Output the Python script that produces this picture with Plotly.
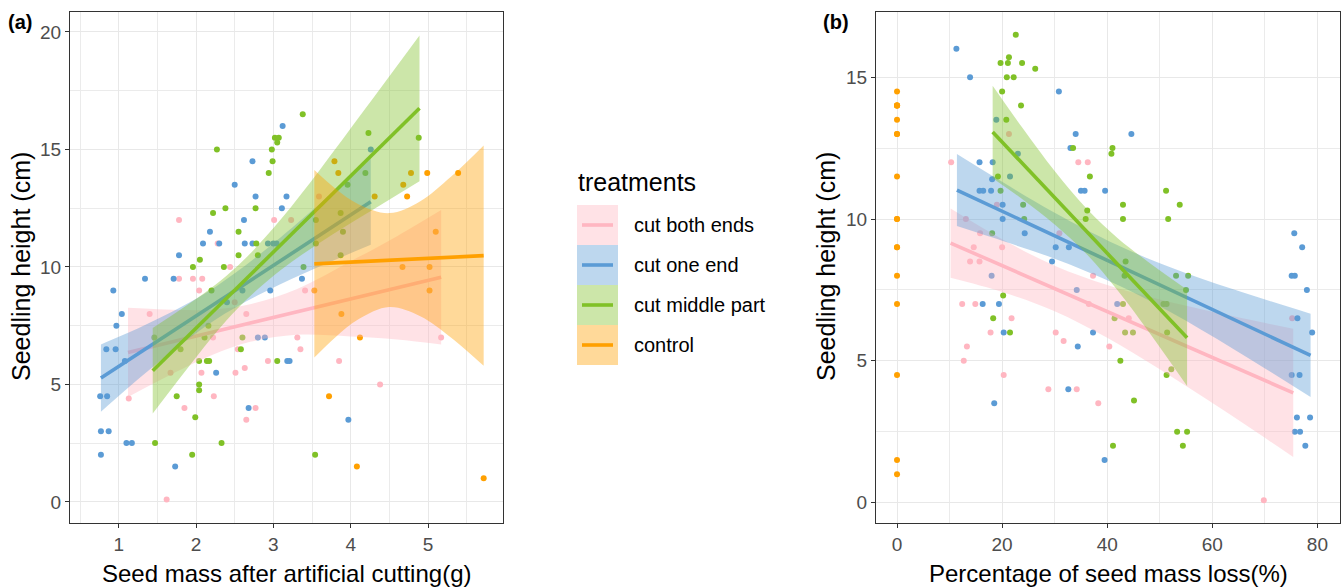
import plotly.graph_objects as go

# ---------------- Panel (a): seed mass after cutting (g) vs seedling height (cm)
a_pink_x = [1.78, 2.28, 2.44, 1.78, 1.96, 2.08, 2.04, 3.59, 3.01, 3.23, 3.41, 1.40, 1.13, 1.62, 1.85,
            2.23, 2.77, 2.65, 2.07, 2.51, 2.63, 1.67, 2.54, 2.22, 2.65, 2.50, 3.31, 5.17, 3.35, 2.93,
            3.85, 4.38]
a_pink_y = [12.0, 11.0, 10.0, 9.5, 9.5, 9.5, 9.0, 13.0, 12.0, 12.0, 9.0, 8.0, 4.4, 0.1, 4.0,
            4.5, 4.0, 3.5, 5.5, 5.5, 5.7, 5.5, 6.5, 7.0, 8.0, 8.5, 7.0, 7.0, 6.5, 6.0,
            6.0, 5.0]

a_blue_x = [2.73, 2.50, 2.77, 2.62, 2.18, 2.09, 2.30, 2.63, 2.73, 1.78, 1.34, 1.71, 0.93, 3.12, 4.26,
            3.17, 3.11, 2.93, 3.00, 3.04, 3.37, 2.96, 1.04, 0.97, 0.84, 0.96, 1.08, 0.76, 0.85, 0.77,
            0.87, 1.10, 1.17, 0.77, 1.73, 2.68, 2.26, 2.80, 2.89, 2.60, 2.40, 3.18, 3.21, 3.97]
a_blue_y = [14.5, 13.5, 13.0, 12.0, 11.5, 11.0, 11.0, 11.0, 11.0, 10.5, 9.5, 9.5, 9.0, 16.0, 15.0,
            13.0, 12.5, 11.0, 11.0, 11.0, 9.5, 9.0, 8.0, 7.5, 6.5, 6.5, 6.0, 4.5, 4.5, 3.0,
            3.0, 2.5, 2.5, 2.0, 1.5, 4.0, 5.5, 7.0, 7.0, 9.0, 8.5, 6.0, 6.0, 3.5]

a_green_x = [2.27, 2.38, 2.77, 2.22, 2.55, 2.78, 2.05, 2.55, 1.96, 2.36, 3.38, 3.02, 3.07, 3.05, 4.23,
             4.88, 2.98, 2.99, 2.94, 4.19, 3.96, 3.55, 3.87, 3.90, 3.55, 3.87, 2.80, 3.39, 1.47, 1.75,
             1.99, 1.95, 2.33, 2.04, 2.04, 2.04, 2.14, 2.17, 2.58, 1.46, 1.80, 2.60, 2.11, 2.20, 2.16,
             3.05, 3.54]
a_green_y = [15.0, 12.5, 12.5, 12.3, 11.5, 11.0, 10.3, 10.5, 10.0, 10.0, 16.5, 15.5, 15.5, 15.3, 15.7,
             15.5, 15.0, 14.5, 14.0, 14.0, 13.5, 12.0, 12.3, 11.5, 11.0, 10.5, 10.5, 10.0, 2.5, 4.5,
             3.6, 2.0, 2.5, 5.0, 4.75, 6.0, 6.0, 6.0, 6.5, 7.0, 6.5, 7.0, 7.0, 9.0, 7.5,
             6.0, 2.0]

a_orange_x = [3.53, 3.88, 4.12, 3.72, 4.08, 5.72, 3.79, 3.84, 4.68, 4.31, 4.73, 4.78, 4.99, 5.39, 5.10,
              4.67, 5.02, 5.02]
control_y = [9.0, 8.0, 7.0, 4.5, 1.5, 1.0, 14.5, 14.0, 13.5, 13.0, 13.0, 14.0, 14.0, 14.0, 11.5,
             10.0, 10.0, 9.0]

# fitted lines (end points) and confidence bands, panel (a)
a_pink_line_x, a_pink_line_y = [1.12, 5.17], [6.36, 9.56]
a_pink_band_x = [1.12, 1.6, 2.2, 2.7, 3.3, 4.0, 4.6, 5.17]
a_pink_band_lo = [4.46, 5.29, 6.24, 6.81, 7.11, 7.04, 6.91, 6.70]
a_pink_band_hi = [8.26, 8.19, 8.18, 8.41, 9.05, 10.24, 11.31, 12.42]

a_blue_line_x, a_blue_line_y = [0.77, 4.26], [5.27, 12.77]
a_blue_band_x = [0.77, 1.3, 1.8, 2.25, 2.8, 3.4, 4.26]
a_blue_band_lo = [3.84, 5.36, 6.68, 7.75, 8.79, 9.73, 10.94]
a_blue_band_hi = [6.70, 7.46, 8.28, 9.15, 10.47, 12.11, 14.60]

a_green_line_x, a_green_line_y = [1.44, 4.89], [5.58, 16.75]
a_green_band_x = [1.44, 1.9, 2.3, 2.64, 3.1, 3.6, 4.2, 4.89]
a_green_band_lo = [3.76, 5.73, 7.37, 8.57, 9.88, 11.03, 12.26, 13.65]
a_green_band_hi = [7.40, 8.41, 9.37, 10.37, 12.04, 14.13, 16.78, 19.85]

a_orange_line_x, a_orange_line_y = [3.53, 5.72], [10.13, 10.48]
a_orange_band_x = [3.53, 3.8, 4.1, 4.5, 4.9, 5.3, 5.72]
a_orange_band_lo = [6.14, 7.0, 7.77, 8.29, 7.9, 6.99, 5.79]
a_orange_band_hi = [14.12, 13.34, 12.67, 12.29, 12.8, 13.85, 15.17]

# ---------------- Panel (b): percentage of seed mass loss (%) vs seedling height (cm)
b_pink_x = [10.3, 21.3, 34.5, 36.3, 19.0, 13.1, 30.9, 15.8, 14.6, 20.0, 13.9, 15.7, 37.3, 12.4, 14.9,
            21.8, 17.8, 30.2, 31.7, 13.3, 40.4, 12.7, 20.3, 28.8, 34.2, 38.3, 69.8, 36.5, 44.1, 75.2]
b_pink_y = [12.0, 13.0, 12.0, 12.0, 10.5, 10.0, 9.5, 9.5, 9.0, 9.0, 8.5, 8.5, 8.0, 7.0, 7.0,
            6.5, 6.0, 6.0, 5.7, 5.5, 5.5, 5.0, 4.5, 4.0, 4.0, 3.5, 0.08, 7.0, 6.5, 6.5]

b_blue_x = [11.3, 13.9, 18.9, 30.8, 34.0, 33.0, 23.0, 15.7, 18.2, 21.5, 18.1, 15.7, 16.4, 17.9, 35.0,
            35.7, 39.6, 20.1, 20.1, 24.3, 30.2, 32.7, 29.5, 18.0, 34.2, 44.6, 75.6, 77.1, 75.1, 75.7,
            78.0, 41.9, 76.2, 79.0, 75.1, 76.6, 76.1, 78.6, 75.7, 76.7, 77.7, 39.5, 16.3, 19.4, 20.3,
            37.3, 34.4, 32.6, 18.5]
b_blue_y = [16.0, 15.0, 13.5, 14.5, 13.0, 12.5, 12.3, 12.0, 12.0, 11.5, 11.4, 11.0, 11.0, 11.0, 11.0,
            11.0, 11.0, 10.5, 10.0, 9.5, 9.0, 9.0, 8.5, 8.0, 7.5, 13.0, 9.5, 9.0, 8.0, 8.0,
            7.5, 7.0, 6.5, 6.0, 4.5, 4.5, 3.0, 3.0, 2.5, 2.5, 2.0, 1.5, 7.0, 7.0, 6.0,
            6.0, 5.5, 4.0, 3.5]

b_green_x = [22.6, 19.7, 21.1, 21.3, 23.8, 26.3, 20.9, 22.2, 20.0, 23.6, 20.8, 33.5, 41.0, 40.8, 19.2,
             36.7, 19.7, 24.0, 36.2, 24.2, 35.9, 18.1, 20.2, 43.5, 43.3, 53.1, 55.4, 55.0, 51.2, 53.8,
             43.0, 43.0, 51.6, 43.0, 50.7, 51.3, 41.4, 18.3, 21.5, 43.4, 44.9, 51.4, 42.5, 52.2, 51.3,
             45.1, 53.3, 55.2, 41.1, 54.4]
b_green_y = [16.5, 15.5, 15.5, 15.7, 15.5, 15.3, 15.0, 15.0, 14.5, 14.0, 13.5, 12.5, 12.5, 12.3, 11.5,
             11.5, 11.0, 10.5, 10.3, 10.0, 10.0, 9.5, 7.3, 8.5, 8.0, 8.0, 8.0, 7.5, 11.0, 10.5,
             10.5, 10.0, 10.0, 7.0, 7.0, 7.0, 6.5, 6.5, 6.0, 6.0, 6.0, 6.0, 5.0, 4.7, 4.5,
             3.6, 2.5, 2.5, 2.0, 2.0]

b_orange_x = [0.0] * len(control_y)

b_pink_line_x, b_pink_line_y = [10.2, 75.4], [9.15, 3.87]
b_pink_band_x = [10.2, 20, 30, 40, 50, 62, 75.4]
b_pink_band_lo = [7.93, 7.43, 6.75, 5.81, 4.70, 3.27, 1.61]
b_pink_band_hi = [10.37, 9.29, 8.35, 7.67, 7.16, 6.65, 6.13]

b_blue_line_x, b_blue_line_y = [11.4, 78.7], [11.02, 5.19]
b_blue_band_x = [11.4, 20, 30, 41.7, 52, 64, 78.7]
b_blue_band_lo = [9.75, 9.23, 8.60, 7.70, 6.72, 5.42, 3.72]
b_blue_band_hi = [12.29, 11.31, 10.22, 9.10, 8.30, 7.52, 6.66]

b_green_line_x, b_green_line_y = [18.2, 55.2], [13.07, 5.81]
b_green_band_x = [18.2, 24, 30, 36.2, 42, 48, 55.2]
b_green_band_lo = [11.44, 10.68, 9.81, 8.74, 7.48, 6.00, 4.11]
b_green_band_hi = [14.70, 13.18, 11.69, 10.34, 9.32, 8.46, 7.51]

treatments = ["cut both ends", "cut one end", "cut middle part", "control"]

# ---------------- styling
W, H = 1343, 587
PINK, BLUE, GREEN, ORANGE = "#FFB6C1", "#5B9BD5", "#80C127", "#FFA000"
FILLS = {PINK: "rgba(255,182,193,0.4)", BLUE: "rgba(91,155,213,0.4)",
         GREEN: "rgba(128,193,39,0.4)", ORANGE: "rgba(255,160,0,0.4)"}
FONT = "Liberation Sans, Arial, Helvetica, sans-serif"

fig = go.Figure()


def pts(x, y, c, xa, ya):
    fig.add_trace(go.Scatter(x=x, y=y, mode="markers", marker=dict(size=6, color=c, line=dict(width=0)),
                             xaxis=xa, yaxis=ya, showlegend=False, hoverinfo="skip"))


def smooth(bx, lo, hi, lx, ly, c, xa, ya):
    fig.add_trace(go.Scatter(x=bx, y=lo, mode="lines", line=dict(width=0, shape="spline"),
                             xaxis=xa, yaxis=ya, showlegend=False, hoverinfo="skip"))
    fig.add_trace(go.Scatter(x=bx, y=hi, mode="lines", line=dict(width=0, shape="spline"),
                             fill="tonexty", fillcolor=FILLS[c],
                             xaxis=xa, yaxis=ya, showlegend=False, hoverinfo="skip"))
    fig.add_trace(go.Scatter(x=lx, y=ly, mode="lines", line=dict(width=3.6, color=c),
                             xaxis=xa, yaxis=ya, showlegend=False, hoverinfo="skip"))


# panel (a)
pts(a_pink_x, a_pink_y, PINK, "x", "y")
pts(a_blue_x, a_blue_y, BLUE, "x", "y")
pts(a_green_x, a_green_y, GREEN, "x", "y")
pts(a_orange_x, control_y, ORANGE, "x", "y")
smooth(a_pink_band_x, a_pink_band_lo, a_pink_band_hi, a_pink_line_x, a_pink_line_y, PINK, "x", "y")
smooth(a_blue_band_x, a_blue_band_lo, a_blue_band_hi, a_blue_line_x, a_blue_line_y, BLUE, "x", "y")
smooth(a_green_band_x, a_green_band_lo, a_green_band_hi, a_green_line_x, a_green_line_y, GREEN, "x", "y")
smooth(a_orange_band_x, a_orange_band_lo, a_orange_band_hi, a_orange_line_x, a_orange_line_y, ORANGE, "x", "y")

# panel (b)
pts(b_pink_x, b_pink_y, PINK, "x2", "y2")
pts(b_blue_x, b_blue_y, BLUE, "x2", "y2")
pts(b_green_x, b_green_y, GREEN, "x2", "y2")
pts(b_orange_x, control_y, ORANGE, "x2", "y2")
smooth(b_pink_band_x, b_pink_band_lo, b_pink_band_hi, b_pink_line_x, b_pink_line_y, PINK, "x2", "y2")
smooth(b_blue_band_x, b_blue_band_lo, b_blue_band_hi, b_blue_line_x, b_blue_line_y, BLUE, "x2", "y2")
smooth(b_green_band_x, b_green_band_lo, b_green_band_hi, b_green_line_x, b_green_line_y, GREEN, "x2", "y2")


def px(v):
    return v / W


def py(v):
    return 1 - v / H


YDOM = [py(523), py(12)]
ax_common = dict(showline=True, mirror=True, linecolor="#333333", linewidth=1.2,
                 ticks="outside", ticklen=4, tickwidth=1.1, tickcolor="#333333",
                 tickfont=dict(family=FONT, size=19, color="#4D4D4D"),
                 showgrid=True, gridcolor="#E8E8E8", gridwidth=1.3, zeroline=False,
                 tickmode="linear")

fig.update_layout(
    width=W, height=H, margin=dict(l=0, r=0, t=0, b=0),
    paper_bgcolor="white", plot_bgcolor="white", showlegend=False,
    font=dict(family=FONT, color="black"),
    xaxis=dict(domain=[px(70), px(503)], anchor="y", range=[0.37, 5.97], tick0=1, dtick=1,
               minor=dict(dtick=0.5, tick0=0.5, showgrid=True, gridcolor="#EBEBEB", gridwidth=0.8, ticks=""),
               **ax_common),
    yaxis=dict(domain=YDOM, anchor="x", range=[-0.9, 20.85], tick0=0, dtick=5,
               minor=dict(dtick=2.5, tick0=0, showgrid=True, gridcolor="#EBEBEB", gridwidth=0.8, ticks=""),
               **ax_common),
    xaxis2=dict(domain=[px(876), px(1340)], anchor="y2", range=[-4.0, 84.3], tick0=0, dtick=20,
                minor=dict(dtick=10, tick0=0, showgrid=True, gridcolor="#EBEBEB", gridwidth=0.8, ticks=""),
                **ax_common),
    yaxis2=dict(domain=YDOM, anchor="x2", range=[-0.72, 17.3], tick0=0, dtick=5,
                minor=dict(dtick=2.5, tick0=0, showgrid=True, gridcolor="#EBEBEB", gridwidth=0.8, ticks=""),
                **ax_common),
)

ann = []
title_font = dict(family=FONT, size=24, color="black")
ytitle_font = dict(family=FONT, size=25, color="black")
ann.append(dict(text="Seed mass after artificial cutting(g)", x=px((70 + 503) / 2), y=py(573),
                xref="paper", yref="paper", showarrow=False, font=title_font, xanchor="center", yanchor="middle"))
ann.append(dict(text="Percentage of seed mass loss(%)", x=px((876 + 1340) / 2), y=py(573),
                xref="paper", yref="paper", showarrow=False, font=title_font, xanchor="center", yanchor="middle"))
ann.append(dict(text="Seedling height (cm)", x=px(21), y=py(267), textangle=-90,
                xref="paper", yref="paper", showarrow=False, font=ytitle_font, xanchor="center", yanchor="middle"))
ann.append(dict(text="Seedling height (cm)", x=px(826), y=py(267), textangle=-90,
                xref="paper", yref="paper", showarrow=False, font=ytitle_font, xanchor="center", yanchor="middle"))
ann.append(dict(text="<b>(a)</b>", x=px(6), y=py(22), xref="paper", yref="paper", showarrow=False,
                font=dict(family=FONT, size=20, color="black"), xanchor="left", yanchor="middle"))
ann.append(dict(text="<b>(b)</b>", x=px(821), y=py(22), xref="paper", yref="paper", showarrow=False,
                font=dict(family=FONT, size=20, color="black"), xanchor="left", yanchor="middle"))

# legend (drawn like the ggplot key: band fill with a line)
ann.append(dict(text="treatments", x=px(576), y=py(182), xref="paper", yref="paper", showarrow=False,
                font=dict(family=FONT, size=25, color="black"), xanchor="left", yanchor="middle"))
shapes = []
key_cols = [PINK, BLUE, GREEN, ORANGE]
for i, (lab, c) in enumerate(zip(treatments, key_cols)):
    top = 205 + 40 * i
    shapes.append(dict(type="rect", xref="paper", yref="paper", x0=px(577), x1=px(618),
                       y0=py(top + 40), y1=py(top), fillcolor=FILLS[c], line=dict(width=0), layer="above"))
    shapes.append(dict(type="line", xref="paper", yref="paper", x0=px(582), x1=px(613),
                       y0=py(top + 20), y1=py(top + 20), line=dict(color=c, width=3.6), layer="above"))
    ann.append(dict(text=lab, x=px(632), y=py(top + 20), xref="paper", yref="paper", showarrow=False,
                    font=dict(family=FONT, size=20, color="black"), xanchor="left", yanchor="middle"))

fig.update_layout(annotations=ann, shapes=shapes)
fig.write_html("out.html")
